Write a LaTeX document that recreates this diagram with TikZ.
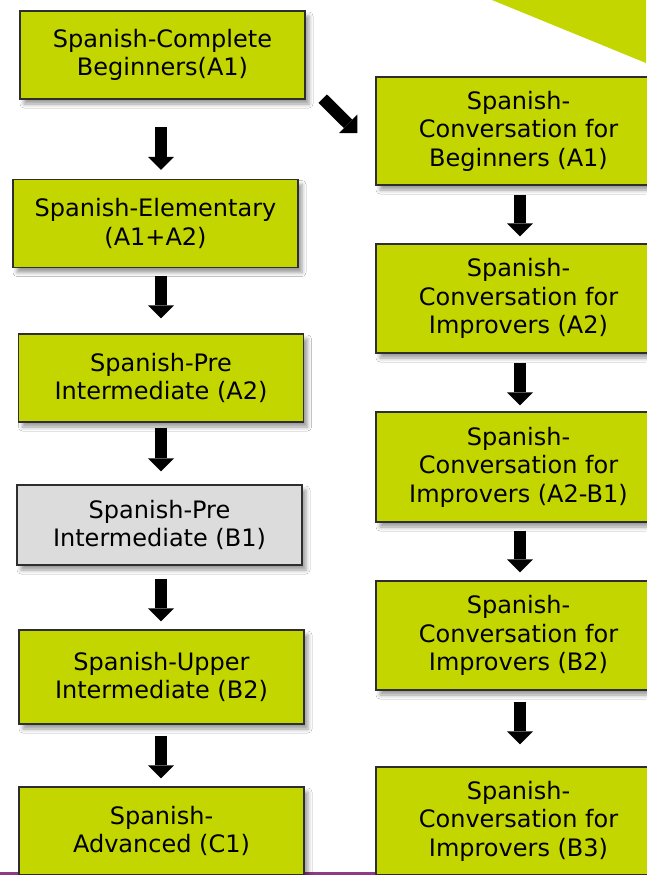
\documentclass[tikz,border=0pt]{standalone}
\usepackage{fontspec}
\setmainfont{DejaVu Sans}
\usetikzlibrary{arrows.meta,shadows.blur,calc}
\definecolor{levelgreen}{HTML}{C4D600}
\definecolor{levelgrey}{HTML}{DCDCDC}
\definecolor{boxline}{HTML}{2E2E2E}
\definecolor{footline}{HTML}{8E3A84}

\begin{document}
\begin{tikzpicture}[x=1pt, y=-1pt,
    box/.style={draw=boxline, line width=1.3pt, fill=levelgreen,
      minimum width=285pt, minimum height=88pt, inner sep=0pt, align=center,
      font=\fontsize{24}{28.5}\selectfont,
      blur shadow={shadow xshift=4pt, shadow yshift=-5pt, shadow blur radius=4pt}},
    greybox/.style={box, fill=levelgrey},
    bigarrow/.style={line width=12pt, -{Triangle[length=13pt, width=26pt, line width=0pt]}}]
    \useasboundingbox (0,0) rectangle (646,875);

    \fill[white](0,0) rectangle (646,875);
    \fill[levelgreen](492,0)--(646,0)--(646,63)--cycle;
    \fill[footline](0,872) rectangle (646,875);

    \node[box] (cb) at(162.5, 55){Spanish-Complete\\Beginners(A1)};
    \node[box] (el) at(155.5, 223.5){Spanish-Elementary\\(A1+A2)};
    \node[box] (pa) at(161, 378){Spanish-Pre\\Intermediate (A2)};
    \node[greybox, minimum height=80pt] (pb) at(159.5, 525){Spanish-Pre\\Intermediate (B1)};
    \node[box, minimum height=94pt] (up) at(161.5, 677){Spanish-Upper\\Intermediate (B2)};
    \node[box] (ad) at(161.5, 831){Spanish-\\Advanced (C1)};

    \node[box, minimum height=108pt] (cvb) at(518.5, 131){Spanish-\\Conversation for\\Beginners (A1)};
    \node[box, minimum height=109pt] (ci1) at(518.5, 298.5){Spanish-\\Conversation for\\Improvers (A2)};
    \node[box, minimum height=110pt] (ci2) at(518.5, 467){Spanish-\\Conversation for\\Improvers (A2-B1)};
    \node[box, minimum height=109pt] (ci3) at(518.5, 635.5){Spanish-\\Conversation for\\Improvers (B2)};
    \node[box, minimum height=108pt] (ci4) at(518.5, 821){Spanish-\\Conversation for\\Improvers (B3)};

    \coordinate (lcol) at(161, 0);
    \coordinate (rcol) at(520, 0);

    \draw[bigarrow, shorten <=27pt, shorten >=9pt](cb.south -| lcol)--(el.north -| lcol);
    \draw[bigarrow, shorten <=8pt, shorten >=15pt](el.south -| lcol)--(pa.north -| lcol);
    \draw[bigarrow, shorten <=5pt, shorten >=13pt](pa.south -| lcol)--(pb.north -| lcol);
    \draw[bigarrow, shorten <=13pt, shorten >=8pt](pb.south -| lcol)--(up.north -| lcol);
    \draw[bigarrow, shorten <=11pt, shorten >=8pt](up.south -| lcol)--(ad.north -| lcol);

    \draw[bigarrow]($(cb.south east)+(17,-1)$)--($(cvb.west)+(-18,2)$);

    \draw[bigarrow, shorten <=9pt, shorten >=7pt](cvb.south -| rcol)--(ci1.north -| rcol);
    \draw[bigarrow, shorten <=9pt, shorten >=6pt](ci1.south -| rcol)--(ci2.north -| rcol);
    \draw[bigarrow, shorten <=8pt, shorten >=8pt](ci2.south -| rcol)--(ci3.north -| rcol);
    \draw[bigarrow, shorten <=11pt, shorten >=22pt](ci3.south -| rcol)--(ci4.north -| rcol);

  \end{tikzpicture}
\end{document}
